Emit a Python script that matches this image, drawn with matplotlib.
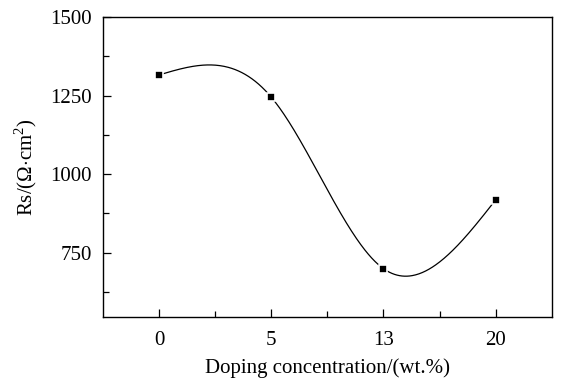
#!/usr/bin/env python3

import numpy as np
import matplotlib
matplotlib.use("Agg")
import matplotlib.pyplot as plt
from matplotlib.ticker import MultipleLocator, FixedLocator

categories = ["0", "5", "13", "20"]
rs_values = [1316, 1245, 699, 918]


def natural_spline(y, n=400):
    # natural cubic spline through equally spaced points (index positions)
    y = np.asarray(y, dtype=float)
    k = len(y)
    a = np.zeros((k, k))
    b = np.zeros(k)
    a[0, 0] = a[-1, -1] = 1.0
    for i in range(1, k - 1):
        a[i, i - 1], a[i, i], a[i, i + 1] = 1.0, 4.0, 1.0
        b[i] = 6.0 * (y[i - 1] - 2 * y[i] + y[i + 1])
    m = np.linalg.solve(a, b)
    xs = np.linspace(0, k - 1, n)
    idx = np.clip(np.floor(xs).astype(int), 0, k - 2)
    t = xs - idx
    u = 1 - t
    ys = (u * y[idx] + t * y[idx + 1]
          + (u ** 3 - u) * m[idx] / 6.0 + (t ** 3 - t) * m[idx + 1] / 6.0)
    return xs, ys


plt.rcParams.update({
    "font.family": ["Liberation Serif", "DejaVu Serif"],
    "mathtext.fontset": "custom",
    "mathtext.rm": "Liberation Serif",
    "font.size": 15,
})

fig = plt.figure(figsize=(5.63, 3.81), dpi=100)
ax = fig.add_axes([0.183, 0.168, 0.797, 0.787])

pos = np.arange(len(categories))
xs, ys = natural_spline(rs_values)
ax.plot(xs, ys, color="black", linewidth=0.9, zorder=2)
ax.plot(pos, rs_values, linestyle="none", marker="s", markersize=6,
        markerfacecolor="black", markeredgecolor="white", markeredgewidth=1.2, zorder=3)

ax.set_xlim(-0.5, 3.5)
ax.set_ylim(545, 1500)
ax.set_xticks(pos)
ax.set_xticklabels(categories)
ax.xaxis.set_minor_locator(FixedLocator([0.5, 1.5, 2.5]))
ax.set_yticks([750, 1000, 1250, 1500])
ax.yaxis.set_minor_locator(FixedLocator([625, 875, 1125, 1375]))

ax.tick_params(axis="both", which="major", direction="in", length=6, width=0.9,
               labelsize=15, top=False, right=False)
ax.tick_params(axis="both", which="minor", direction="in", length=4, width=0.9,
               top=False, right=False)
ax.tick_params(axis="x", pad=10)
ax.tick_params(axis="y", pad=8)
for spine in ax.spines.values():
    spine.set_linewidth(1.0)

ax.set_xlabel("Doping concentration/(wt.%)", fontsize=15, labelpad=6)
ax.set_ylabel(r"Rs/($\Omega$$\cdot$cm$^2$)", fontsize=15, labelpad=8)

fig.savefig("out.png", dpi=100)
plt.close(fig)
